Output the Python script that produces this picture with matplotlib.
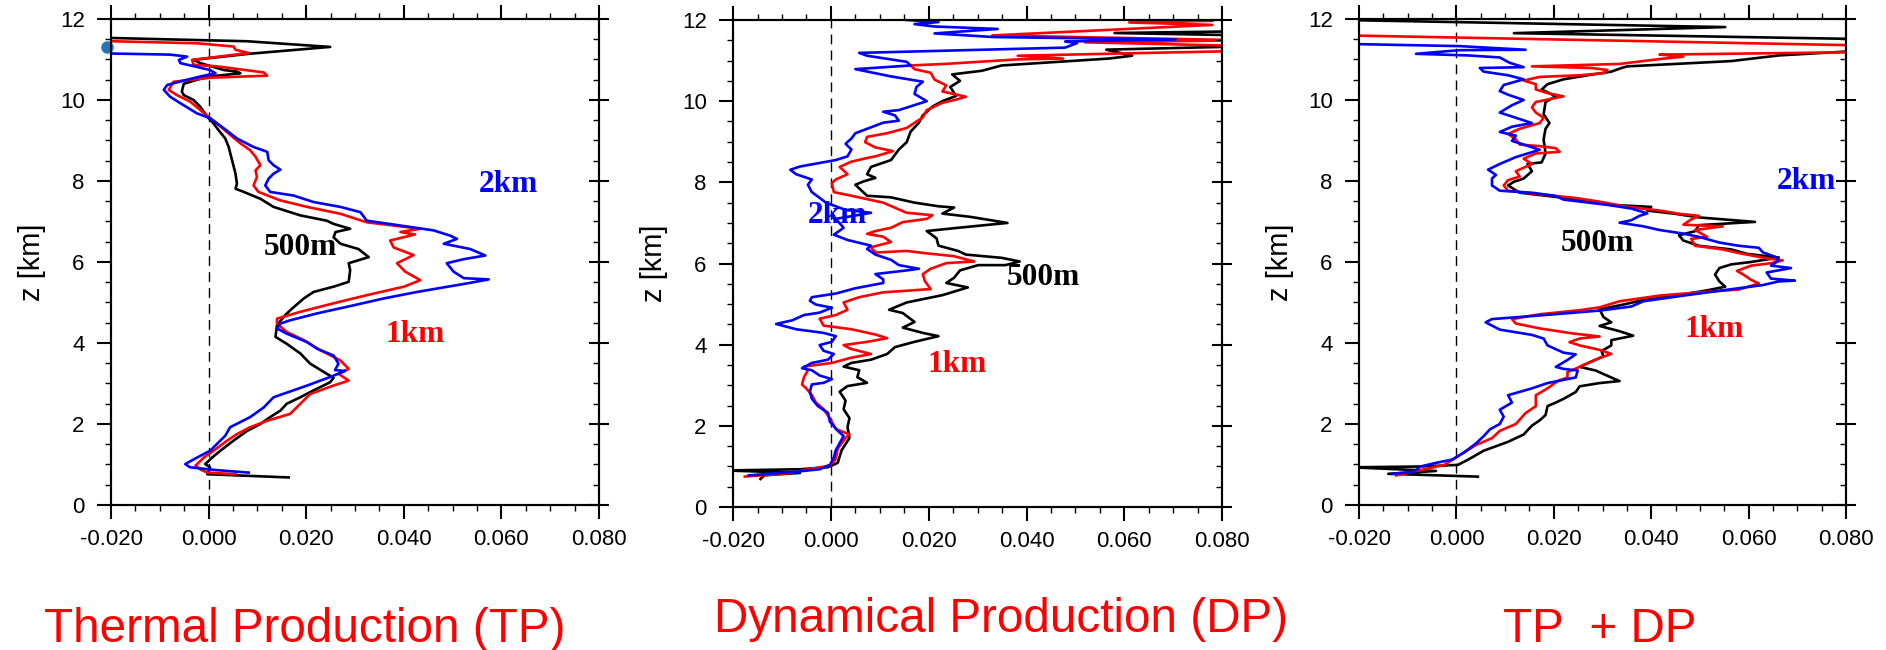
import matplotlib.pyplot as plt
from matplotlib.ticker import MultipleLocator, FormatStrFormatter

plt.rcParams['font.family'] = ['Liberation Sans', 'DejaVu Sans']
plt.rcParams['axes.unicode_minus'] = False

# ---------------- Thermal Production (TP) ----------------
tp_500m_z = [0.68, 0.76, 0.84, 0.93, 1.01, 1.17, 1.34, 1.59, 1.83, 2.00,
             2.17, 2.33, 2.50, 2.66, 2.83, 3.03, 3.14, 3.24, 3.49, 3.74,
             3.98, 4.15, 4.44, 4.69, 4.85, 5.10, 5.26, 5.39, 5.51, 5.80,
             5.97, 6.12, 6.32, 6.45, 6.61, 6.74, 6.82, 6.94, 7.02, 7.15,
             7.36, 7.56, 7.73, 7.81, 7.93, 8.18, 8.51, 8.84, 9.05, 9.26,
             9.42, 9.59, 9.83, 10.00, 10.12, 10.21, 10.40, 10.50, 10.58, 10.66,
             10.70, 10.74, 10.91, 10.99, 11.14, 11.31, 11.45, 11.56]
tp_500m_x = [0.0164, -0.0003, 0.0000, 0.0003, -0.0007, 0.0007, 0.0024, 0.0051, 0.0079, 0.0106,
             0.0126, 0.0147, 0.0160, 0.0188, 0.0215, 0.0249, 0.0256, 0.0242, 0.0208, 0.0188,
             0.0160, 0.0137, 0.0140, 0.0157, 0.0171, 0.0195, 0.0215, 0.0256, 0.0287, 0.0290,
             0.0287, 0.0328, 0.0307, 0.0270, 0.0256, 0.0260, 0.0290, 0.0256, 0.0242, 0.0188,
             0.0133, 0.0106, 0.0072, 0.0055, 0.0058, 0.0055, 0.0048, 0.0041, 0.0034, 0.0020,
             0.0010, -0.0003, -0.0017, -0.0031, -0.0051, -0.0055, -0.0051, -0.0024, 0.0003, 0.0065,
             0.0058, 0.0031, -0.0017, -0.0031, 0.0082, 0.0249, 0.0079, -0.0300]

tp_1km_z = [0.76, 0.80, 0.88, 0.97, 1.17, 1.34, 1.59, 1.75, 1.92, 2.08,
            2.25, 2.50, 2.74, 2.95, 3.07, 3.24, 3.36, 3.57, 3.82, 4.07,
            4.27, 4.48, 4.60, 4.77, 4.98, 5.18, 5.39, 5.55, 5.76, 5.97,
            6.17, 6.36, 6.53, 6.68, 6.74, 6.82, 6.98, 7.19, 7.36, 7.52,
            7.73, 7.89, 8.10, 8.26, 8.39, 8.60, 8.76, 8.93, 9.17, 9.42,
            9.55, 9.75, 9.96, 10.12, 10.25, 10.45, 10.55, 10.60, 10.68, 10.83,
            10.87, 10.99, 11.16, 11.24, 11.32, 11.40, 11.48]
tp_1km_x = [0.0055, -0.0003, -0.0017, -0.0027, -0.0010, 0.0010, 0.0038, 0.0058, 0.0085, 0.0120,
            0.0167, 0.0188, 0.0208, 0.0256, 0.0287, 0.0266, 0.0287, 0.0270, 0.0229, 0.0195,
            0.0160, 0.0140, 0.0140, 0.0188, 0.0256, 0.0324, 0.0400, 0.0434, 0.0403, 0.0386,
            0.0420, 0.0379, 0.0372, 0.0423, 0.0393, 0.0434, 0.0324, 0.0270, 0.0202, 0.0147,
            0.0102, 0.0092, 0.0099, 0.0096, 0.0106, 0.0096, 0.0085, 0.0065, 0.0041, 0.0017,
            0.0003, -0.0017, -0.0038, -0.0065, -0.0082, -0.0072, 0.0003, 0.0120, 0.0113, 0.0017,
            -0.0031, -0.0034, 0.0082, 0.0055, 0.0051, -0.0024, -0.0300]

tp_2km_z = [0.80, 0.86, 0.93, 1.01, 1.17, 1.34, 1.71, 1.92, 2.17, 2.41,
            2.66, 2.95, 3.16, 3.31, 3.33, 3.49, 3.69, 3.86, 4.02, 4.23,
            4.36, 4.48, 4.56, 4.73, 4.93, 5.10, 5.26, 5.47, 5.57, 5.60,
            5.76, 5.97, 6.07, 6.16, 6.32, 6.45, 6.57, 6.65, 6.78, 6.90,
            7.02, 7.23, 7.36, 7.48, 7.64, 7.73, 7.89, 8.06, 8.18, 8.28,
            8.39, 8.51, 8.72, 8.84, 9.05, 9.30, 9.55, 9.67, 9.92, 10.08,
            10.25, 10.37, 10.48, 10.58, 10.66, 10.74, 10.91, 10.99, 11.07, 11.12,
            11.17]
tp_2km_x = [0.0082, 0.0017, -0.0038, -0.0048, -0.0024, 0.0003, 0.0034, 0.0044, 0.0085, 0.0113,
            0.0133, 0.0202, 0.0249, 0.0280, 0.0259, 0.0266, 0.0256, 0.0222, 0.0202, 0.0160,
            0.0140, 0.0147, 0.0167, 0.0222, 0.0297, 0.0359, 0.0427, 0.0529, 0.0574, 0.0523,
            0.0502, 0.0488, 0.0523, 0.0567, 0.0536, 0.0482, 0.0509, 0.0495, 0.0461, 0.0393,
            0.0324, 0.0311, 0.0270, 0.0215, 0.0174, 0.0126, 0.0116, 0.0123, 0.0133, 0.0147,
            0.0133, 0.0123, 0.0120, 0.0092, 0.0058, 0.0031, 0.0003, -0.0024, -0.0058, -0.0079,
            -0.0092, -0.0085, -0.0051, -0.0017, 0.0014, 0.0003, -0.0058, -0.0061, -0.0044, -0.0079,
            -0.0300]

# stray marker on the left edge of the TP panel
tp_dot_x = [-0.0209]
tp_dot_z = [11.32]

# ---------------- Dynamical Production (DP) ----------------
dp_500m_z = [0.69, 0.78, 0.84, 0.90, 0.93, 0.98, 1.09, 1.40, 1.70, 1.97,
             2.19, 2.41, 2.62, 2.84, 2.98, 3.06, 3.20, 3.37, 3.46, 3.55,
             3.63, 3.77, 3.94, 4.07, 4.21, 4.29, 4.42, 4.56, 4.78, 4.86,
             5.04, 5.22, 5.41, 5.48, 5.52, 5.65, 5.83, 5.96, 5.96, 6.05,
             6.14, 6.22, 6.31, 6.44, 6.62, 6.80, 6.88, 7.00, 7.15, 7.23,
             7.38, 7.41, 7.50, 7.63, 7.67, 7.94, 8.02, 8.11, 8.20, 8.38,
             8.55, 8.81, 8.99, 9.25, 9.47, 9.65, 9.87, 10.00, 10.13, 10.35,
             10.50, 10.66, 10.75, 10.88, 11.05, 11.12, 11.27, 11.38, 11.60, 11.68,
             11.74]
dp_500m_x = [-0.0144, -0.0136, -0.0063, -0.0215, -0.0063, -0.0006, 0.0014, 0.0022, 0.0038, 0.0034,
             0.0038, 0.0026, 0.0030, 0.0018, 0.0034, 0.0074, 0.0054, 0.0058, 0.0026, 0.0042,
             0.0082, 0.0115, 0.0131, 0.0171, 0.0220, 0.0188, 0.0147, 0.0171, 0.0147, 0.0119,
             0.0155, 0.0228, 0.0280, 0.0252, 0.0236, 0.0252, 0.0264, 0.0301, 0.0357, 0.0386,
             0.0349, 0.0276, 0.0260, 0.0220, 0.0216, 0.0196, 0.0260, 0.0361, 0.0285, 0.0228,
             0.0252, 0.0220, 0.0171, 0.0123, 0.0074, 0.0050, 0.0066, 0.0091, 0.0074, 0.0082,
             0.0123, 0.0139, 0.0155, 0.0163, 0.0180, 0.0188, 0.0208, 0.0228, 0.0256, 0.0244,
             0.0264, 0.0248, 0.0309, 0.0349, 0.0568, 0.0616, 0.0563, 0.0950, 0.0950, 0.0580,
             0.0950]

dp_1km_z = [0.75, 0.83, 0.91, 1.02, 1.18, 1.44, 1.70, 1.79, 1.92, 2.19,
            2.41, 2.58, 2.76, 2.93, 3.02, 3.20, 3.37, 3.46, 3.55, 3.68,
            3.77, 3.90, 3.99, 4.07, 4.16, 4.25, 4.38, 4.47, 4.64, 4.73,
            4.86, 5.04, 5.17, 5.29, 5.37, 5.57, 5.74, 5.87, 6.01, 6.05,
            6.18, 6.25, 6.31, 6.27, 6.40, 6.53, 6.66, 6.73, 6.80, 6.88,
            7.02, 7.10, 7.19, 7.25, 7.50, 7.67, 7.76, 7.98, 8.07, 8.20,
            8.38, 8.51, 8.60, 8.64, 8.77, 8.86, 8.99, 9.12, 9.21, 9.34,
            9.60, 9.78, 9.96, 10.04, 10.11, 10.24, 10.39, 10.53, 10.70, 10.79,
            10.88, 10.92, 11.03, 11.05, 11.12, 11.19, 11.24, 11.36, 11.45, 11.50,
            11.62, 11.88, 11.94, 11.98]
dp_1km_x = [-0.0176, -0.0087, -0.0055, -0.0002, 0.0010, 0.0014, 0.0030, 0.0038, 0.0010, -0.0002,
            -0.0015, -0.0031, -0.0039, -0.0051, -0.0059, -0.0055, -0.0047, -0.0055, 0.0002, 0.0042,
            0.0082, 0.0040, 0.0026, 0.0074, 0.0115, 0.0091, 0.0042, -0.0015, -0.0023, 0.0010,
            0.0034, 0.0026, 0.0058, 0.0107, 0.0204, 0.0192, 0.0188, 0.0204, 0.0236, 0.0293,
            0.0252, 0.0196, 0.0155, 0.0091, 0.0082, 0.0123, 0.0107, 0.0074, 0.0091, 0.0123,
            0.0147, 0.0196, 0.0208, 0.0155, 0.0107, 0.0042, 0.0006, 0.0002, 0.0010, 0.0034,
            0.0018, 0.0042, 0.0074, 0.0091, 0.0127, 0.0091, 0.0070, 0.0074, 0.0115, 0.0155,
            0.0188, 0.0196, 0.0228, 0.0256, 0.0276, 0.0228, 0.0236, 0.0212, 0.0204, 0.0171,
            0.0163, 0.0236, 0.0382, 0.0475, 0.0382, 0.0648, 0.0850, 0.0850, 0.0520, 0.0850,
            0.0330, 0.0780, 0.0610, 0.0780]

dp_2km_z = [0.78, 0.87, 0.93, 1.04, 1.22, 1.40, 1.75, 1.88, 2.10, 2.32,
            2.49, 2.67, 2.84, 3.02, 3.06, 3.15, 3.24, 3.37, 3.42, 3.55,
            3.63, 3.77, 3.85, 3.99, 4.07, 4.21, 4.29, 4.38, 4.51, 4.60,
            4.73, 4.79, 4.91, 4.99, 5.08, 5.17, 5.26, 5.39, 5.52, 5.61,
            5.74, 5.83, 5.87, 5.96, 6.09, 6.22, 6.36, 6.44, 6.58, 6.71,
            6.88, 7.10, 7.25, 7.32, 7.50, 7.76, 7.94, 8.07, 8.20, 8.31,
            8.39, 8.46, 8.55, 8.64, 8.81, 8.95, 9.08, 9.21, 9.47, 9.52,
            9.65, 9.74, 9.78, 10.00, 10.18, 10.35, 10.48, 10.61, 10.79, 10.88,
            10.97, 11.12, 11.19, 11.32, 11.43, 11.47, 11.52, 11.58, 11.67, 11.78,
            11.84, 11.90, 11.95, 12.00]
dp_2km_x = [-0.0168, -0.0071, -0.0023, -0.0002, 0.0006, 0.0010, 0.0026, 0.0014, -0.0002, -0.0006,
            -0.0027, -0.0039, -0.0043, -0.0039, -0.0015, 0.0002, -0.0023, -0.0039, -0.0059, -0.0039,
            -0.0006, 0.0006, -0.0015, -0.0023, 0.0002, 0.0010, -0.0015, -0.0071, -0.0112, -0.0079,
            -0.0055, -0.0023, 0.0002, -0.0031, -0.0043, -0.0039, 0.0010, 0.0050, 0.0107, 0.0107,
            0.0091, 0.0155, 0.0180, 0.0139, 0.0123, 0.0091, 0.0074, 0.0082, 0.0034, 0.0006,
            0.0026, 0.0010, 0.0082, 0.0030, -0.0010, -0.0039, -0.0047, -0.0039, -0.0071, -0.0083,
            -0.0063, -0.0031, 0.0010, 0.0034, 0.0042, 0.0030, 0.0042, 0.0050, 0.0107, 0.0139,
            0.0131, 0.0107, 0.0139, 0.0196, 0.0171, 0.0175, 0.0188, 0.0123, 0.0050, 0.0163,
            0.0155, 0.0074, 0.0058, 0.0479, 0.0503, 0.0479, 0.0705, 0.0333, 0.0212, 0.0341,
            0.0212, 0.0171, 0.0220, 0.0155]

# ---------------- TP + DP ----------------
sum_500m_z = [0.70, 0.77, 0.84, 0.93, 0.95, 0.99, 1.12, 1.34, 1.56, 1.74,
              1.96, 2.09, 2.22, 2.44, 2.53, 2.62, 2.79, 2.93, 3.01, 3.06,
              3.19, 3.32, 3.41, 3.54, 3.67, 3.80, 3.94, 4.07, 4.18, 4.29,
              4.42, 4.51, 4.64, 4.83, 4.95, 5.06, 5.17, 5.30, 5.39, 5.52,
              5.69, 5.85, 5.94, 6.00, 6.11, 6.20, 6.31, 6.40, 6.53, 6.66,
              6.76, 6.91, 6.99, 7.10, 7.19, 7.27, 7.36, 7.41, 7.54, 7.63,
              7.71, 7.89, 7.98, 8.06, 8.24, 8.42, 8.46, 8.68, 9.03, 9.29,
              9.43, 9.65, 9.95, 10.09, 10.26, 10.39, 10.51, 10.61, 10.70, 10.79,
              10.83, 10.96, 11.10, 11.30, 11.48, 11.65, 11.80, 11.97]
sum_500m_x = [0.0044, -0.0140, -0.0042, -0.0215, -0.0074, 0.0003, 0.0024, 0.0056, 0.0106, 0.0138,
              0.0155, 0.0171, 0.0183, 0.0187, 0.0204, 0.0220, 0.0245, 0.0253, 0.0294, 0.0335,
              0.0310, 0.0286, 0.0253, 0.0277, 0.0302, 0.0298, 0.0318, 0.0318, 0.0363, 0.0335,
              0.0294, 0.0318, 0.0302, 0.0294, 0.0343, 0.0384, 0.0449, 0.0515, 0.0552, 0.0540,
              0.0531, 0.0540, 0.0564, 0.0605, 0.0662, 0.0597, 0.0564, 0.0498, 0.0466, 0.0457,
              0.0490, 0.0498, 0.0613, 0.0498, 0.0449, 0.0392, 0.0400, 0.0318, 0.0253, 0.0187,
              0.0130, 0.0106, 0.0118, 0.0138, 0.0155, 0.0146, 0.0175, 0.0183, 0.0179, 0.0183,
              0.0191, 0.0179, 0.0183, 0.0204, 0.0175, 0.0187, 0.0220, 0.0269, 0.0318, 0.0339,
              0.0351, 0.0564, 0.0662, 0.0950, 0.0950, 0.0118, 0.0552, -0.0210]

sum_1km_z = [0.73, 0.86, 0.99, 1.17, 1.30, 1.48, 1.65, 1.83, 2.00, 2.27,
             2.44, 2.71, 2.88, 3.06, 3.15, 3.28, 3.41, 3.50, 3.63, 3.73,
             3.83, 3.94, 4.02, 4.11, 4.16, 4.24, 4.36, 4.48, 4.59, 4.71,
             4.81, 4.88, 5.03, 5.17, 5.25, 5.32, 5.47, 5.56, 5.69, 5.78,
             5.91, 5.97, 6.04, 6.09, 6.22, 6.31, 6.40, 6.57, 6.62, 6.79,
             6.88, 6.92, 7.05, 7.14, 7.19, 7.27, 7.36, 7.49, 7.58, 7.67,
             7.76, 7.89, 8.02, 8.11, 8.24, 8.42, 8.55, 8.68, 8.72, 8.81,
             8.86, 8.90, 9.03, 9.16, 9.29, 9.43, 9.56, 9.69, 9.82, 9.95,
             10.01, 10.09, 10.17, 10.26, 10.39, 10.48, 10.57, 10.61, 10.66, 10.74,
             10.79, 10.83, 10.89, 11.01, 11.07, 11.12, 11.20, 11.32, 11.60]
sum_1km_x = [-0.0124, -0.0074, -0.0025, -0.0001, 0.0016, 0.0040, 0.0073, 0.0089, 0.0122, 0.0142,
             0.0163, 0.0163, 0.0187, 0.0208, 0.0228, 0.0228, 0.0253, 0.0269, 0.0294, 0.0318,
             0.0294, 0.0253, 0.0232, 0.0253, 0.0294, 0.0236, 0.0171, 0.0122, 0.0114, 0.0171,
             0.0253, 0.0294, 0.0335, 0.0417, 0.0498, 0.0580, 0.0621, 0.0605, 0.0589, 0.0576,
             0.0605, 0.0646, 0.0670, 0.0637, 0.0580, 0.0547, 0.0490, 0.0482, 0.0515, 0.0490,
             0.0547, 0.0466, 0.0482, 0.0498, 0.0457, 0.0417, 0.0351, 0.0294, 0.0245, 0.0171,
             0.0106, 0.0097, 0.0106, 0.0130, 0.0122, 0.0155, 0.0138, 0.0163, 0.0212, 0.0204,
             0.0171, 0.0130, 0.0122, 0.0106, 0.0130, 0.0171, 0.0179, 0.0163, 0.0155, 0.0163,
             0.0187, 0.0220, 0.0187, 0.0163, 0.0163, 0.0138, 0.0171, 0.0253, 0.0302, 0.0310,
             0.0277, 0.0155, 0.0335, 0.0417, 0.0466, 0.0417, 0.0950, 0.0950, -0.0250]

sum_2km_z = [0.77, 0.82, 0.95, 1.04, 1.12, 1.30, 1.52, 1.70, 1.87, 2.00,
             2.18, 2.35, 2.53, 2.71, 2.88, 3.01, 3.07, 3.15, 3.32, 3.36,
             3.41, 3.58, 3.72, 3.76, 3.94, 4.11, 4.20, 4.33, 4.51, 4.59,
             4.68, 4.80, 4.90, 5.03, 5.17, 5.30, 5.43, 5.52, 5.54, 5.59,
             5.74, 5.85, 5.91, 6.04, 6.13, 6.24, 6.35, 6.40, 6.48, 6.62,
             6.70, 6.79, 6.88, 6.97, 7.03, 7.14, 7.20, 7.32, 7.41, 7.47,
             7.54, 7.63, 7.71, 7.76, 7.89, 8.06, 8.15, 8.28, 8.42, 8.59,
             8.77, 8.90, 8.99, 9.12, 9.21, 9.34, 9.43, 9.56, 9.69, 9.87,
             10.00, 10.13, 10.22, 10.37, 10.51, 10.61, 10.70, 10.79, 10.81, 10.92,
             11.05, 11.10, 11.14, 11.23, 11.24, 11.33, 11.39]
sum_2km_x = [-0.0132, -0.0087, -0.0074, -0.0042, -0.0009, 0.0016, 0.0040, 0.0056, 0.0069, 0.0089,
             0.0097, 0.0089, 0.0114, 0.0106, 0.0155, 0.0187, 0.0212, 0.0245, 0.0249, 0.0220,
             0.0204, 0.0228, 0.0245, 0.0220, 0.0187, 0.0179, 0.0155, 0.0089, 0.0060, 0.0073,
             0.0171, 0.0294, 0.0359, 0.0384, 0.0466, 0.0547, 0.0629, 0.0662, 0.0695, 0.0646,
             0.0637, 0.0687, 0.0646, 0.0662, 0.0654, 0.0629, 0.0621, 0.0580, 0.0540, 0.0498,
             0.0466, 0.0417, 0.0384, 0.0335, 0.0359, 0.0376, 0.0392, 0.0359, 0.0310, 0.0269,
             0.0220, 0.0204, 0.0155, 0.0089, 0.0073, 0.0073, 0.0081, 0.0065, 0.0089, 0.0122,
             0.0171, 0.0138, 0.0114, 0.0122, 0.0089, 0.0114, 0.0155, 0.0122, 0.0089, 0.0114,
             0.0138, 0.0106, 0.0089, 0.0097, 0.0138, 0.0106, 0.0056, 0.0048, 0.0138, 0.0109,
             0.0089, 0.0024, -0.0083, 0.0007, 0.0142, 0.0007, -0.0250]

titles = ['Thermal Production (TP)', 'Dynamical Production (DP)', 'TP  + DP']

# ---------------- figure ----------------
fig = plt.figure(figsize=(18.86, 6.5), dpi=100)
boxes = [[0.0589, 0.2231, 0.2587, 0.7477],
         [0.3887, 0.2200, 0.2593, 0.7492],
         [0.7206, 0.2231, 0.2582, 0.7477]]

panels = [
    [(tp_500m_x, tp_500m_z, 'black'), (tp_1km_x, tp_1km_z, 'red'), (tp_2km_x, tp_2km_z, 'blue')],
    [(dp_500m_x, dp_500m_z, 'black'), (dp_1km_x, dp_1km_z, 'red'), (dp_2km_x, dp_2km_z, 'blue')],
    [(sum_500m_x, sum_500m_z, 'black'), (sum_1km_x, sum_1km_z, 'red'), (sum_2km_x, sum_2km_z, 'blue')],
]

# curve labels: text, x, baseline z, colour
labels = [
    [('500m', 0.0187, 6.17, 'black'), ('1km', 0.0424, 4.02, 'red'), ('2km', 0.0615, 7.73, 'blue')],
    [('500m', 0.0435, 5.48, 'black'), ('1km', 0.0259, 3.33, 'red'), ('2km', 0.0013, 6.99, 'blue')],
    [('500m', 0.0289, 6.26, 'black'), ('1km', 0.0529, 4.16, 'red'), ('2km', 0.0719, 7.80, 'blue')],
]


def style_axes(ax):
    ax.set_xlim(-0.02, 0.08)
    ax.set_ylim(0, 12)
    ax.xaxis.set_major_locator(MultipleLocator(0.02))
    ax.xaxis.set_minor_locator(MultipleLocator(0.005))
    ax.xaxis.set_major_formatter(FormatStrFormatter('%.3f'))
    ax.yaxis.set_major_locator(MultipleLocator(2))
    ax.yaxis.set_minor_locator(MultipleLocator(0.5))
    ax.tick_params(which='both', direction='out', top=True, labelsize=16)
    ax.tick_params(which='major', length=10, width=1.5)
    ax.tick_params(which='minor', length=4.5, width=1.0)
    ax.tick_params(axis='x', pad=7)
    ax.tick_params(axis='y', pad=9)
    for s in ax.spines.values():
        s.set_linewidth(1.5)
    ax.set_ylabel('z [km]', fontsize=21, va='center')
    ax.yaxis.set_label_coords(-0.162, 0.5)

    # right-hand ticks point into the frame
    rt = ax.twinx()
    rt.set_ylim(0, 12)
    rt.yaxis.set_major_locator(MultipleLocator(2))
    rt.yaxis.set_minor_locator(MultipleLocator(0.5))
    rt.tick_params(which='major', direction='inout', length=15, width=1.5, labelright=False)
    rt.tick_params(which='minor', direction='in', length=4.5, width=1.0)
    for s in rt.spines.values():
        s.set_linewidth(1.5)


for i in range(3):
    ax = fig.add_axes(boxes[i])
    style_axes(ax)
    ax.axvline(0, color='black', lw=1.0, ls=(0, (7, 4.5)), zorder=1)
    for x, z, c in panels[i]:
        ax.plot(x, z, color=c, lw=1.9, zorder=2)
    for txt, lx, lz, c in labels[i]:
        ax.text(lx, lz, txt, color=c, fontsize=22.5, fontweight='bold',
                family='Liberation Serif', ha='center', va='baseline', zorder=3)
    if i == 0:
        ax.plot(tp_dot_x, tp_dot_z, 'o', color='#1f77b4', ms=8, clip_on=False, zorder=4)

fig.text(0.1617, 0.0123, titles[0], color='red', fontsize=34.3, ha='center', va='baseline')
fig.text(0.5308, 0.0277, titles[1], color='red', fontsize=34.3, ha='center', va='baseline')
fig.text(0.8484, 0.0123, titles[2], color='red', fontsize=34.3, ha='center', va='baseline')

fig.savefig('out.png', dpi=100, facecolor='white')
